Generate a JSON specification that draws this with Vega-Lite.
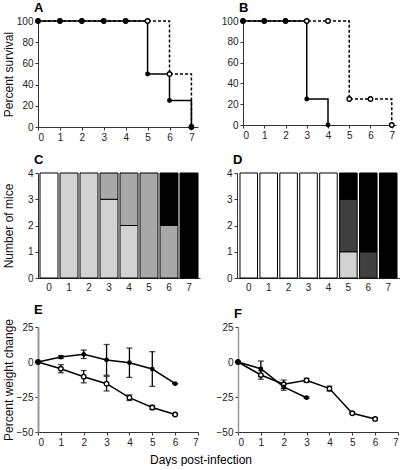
{
  "$schema": "https://vega.github.io/schema/vega-lite/v6.json",
  "padding": {"left": 1, "top": 2, "right": 2, "bottom": 0},
  "config": {
    "font": "Liberation Sans",
    "view": {"stroke": null},
    "axis": {"labelFontSize": 10, "labelColor": "#222", "domainColor": "#333", "tickColor": "#333", "grid": false, "titleFontSize": 12, "titleFontWeight": "normal", "titleColor": "#111", "tickSize": 3, "labelPadding": 2},
    "title": {"fontSize": 13, "fontWeight": "bold", "anchor": "start", "frame": "group", "offset": 1, "dx": -4, "color": "#000"}
  },
  "datasets": {
    "survA": [
      {"day": 0, "pct": 100, "group": "solid"}, {"day": 1, "pct": 100, "group": "solid"}, {"day": 2, "pct": 100, "group": "solid"}, {"day": 3, "pct": 100, "group": "solid"}, {"day": 4, "pct": 100, "group": "solid"}, {"day": 5, "pct": 50, "group": "solid"}, {"day": 6, "pct": 25, "group": "solid"}, {"day": 7, "pct": 0, "group": "solid"},
      {"day": 0, "pct": 100, "group": "open"}, {"day": 1, "pct": 100, "group": "open"}, {"day": 2, "pct": 100, "group": "open"}, {"day": 3, "pct": 100, "group": "open"}, {"day": 4, "pct": 100, "group": "open"}, {"day": 5, "pct": 100, "group": "open"}, {"day": 6, "pct": 50, "group": "open"}, {"day": 7, "pct": 0, "group": "open"}
    ],
    "survB": [
      {"day": 0, "pct": 100, "group": "solid"}, {"day": 1, "pct": 100, "group": "solid"}, {"day": 2, "pct": 100, "group": "solid"}, {"day": 3, "pct": 25, "group": "solid"}, {"day": 4, "pct": 0, "group": "solid"},
      {"day": 0, "pct": 100, "group": "open"}, {"day": 1, "pct": 100, "group": "open"}, {"day": 2, "pct": 100, "group": "open"}, {"day": 3, "pct": 100, "group": "open"}, {"day": 4, "pct": 100, "group": "open"}, {"day": 5, "pct": 25, "group": "open"}, {"day": 6, "pct": 25, "group": "open"}, {"day": 7, "pct": 0, "group": "open"}
    ],
    "miceC": [
      {"day": "0", "cat": "score0", "n": 4},
      {"day": "1", "cat": "score1", "n": 4},
      {"day": "2", "cat": "score1", "n": 4},
      {"day": "3", "cat": "score1", "n": 3}, {"day": "3", "cat": "score2", "n": 1},
      {"day": "4", "cat": "score1", "n": 2}, {"day": "4", "cat": "score2", "n": 2},
      {"day": "5", "cat": "score2", "n": 4},
      {"day": "6", "cat": "score2", "n": 2}, {"day": "6", "cat": "score4", "n": 2},
      {"day": "7", "cat": "score4", "n": 4}
    ],
    "miceD": [
      {"day": "0", "cat": "score0", "n": 4},
      {"day": "1", "cat": "score0", "n": 4},
      {"day": "2", "cat": "score0", "n": 4},
      {"day": "3", "cat": "score0", "n": 4},
      {"day": "4", "cat": "score0", "n": 4},
      {"day": "5", "cat": "score1", "n": 1}, {"day": "5", "cat": "score3", "n": 2}, {"day": "5", "cat": "score4", "n": 1},
      {"day": "6", "cat": "score3", "n": 1}, {"day": "6", "cat": "score4", "n": 3},
      {"day": "7", "cat": "score4", "n": 4}
    ],
    "weightE": [
      {"day": 0, "mean": 0, "sd": 0, "group": "solid"}, {"day": 1, "mean": 3.5, "sd": 1, "group": "solid"}, {"day": 2, "mean": 5.5, "sd": 3, "group": "solid"}, {"day": 3, "mean": 1.5, "sd": 11, "group": "solid"}, {"day": 4, "mean": -0.5, "sd": 10.5, "group": "solid"}, {"day": 5, "mean": -5, "sd": 12.4, "group": "solid"}, {"day": 6, "mean": -15.5, "sd": 0, "group": "solid"},
      {"day": 0, "mean": 0, "sd": 0, "group": "open"}, {"day": 1, "mean": -4.8, "sd": 2.9, "group": "open"}, {"day": 2, "mean": -10.5, "sd": 4.4, "group": "open"}, {"day": 3, "mean": -15.5, "sd": 5.2, "group": "open"}, {"day": 4, "mean": -25.5, "sd": 2, "group": "open"}, {"day": 5, "mean": -32.5, "sd": 1.5, "group": "open"}, {"day": 6, "mean": -37.5, "sd": 0.5, "group": "open"}
    ],
    "weightF": [
      {"day": 0, "mean": 0, "sd": 0, "group": "solid"}, {"day": 1, "mean": -4.8, "sd": 5.5, "group": "solid"}, {"day": 2, "mean": -17.8, "sd": 2.4, "group": "solid"}, {"day": 3, "mean": -25.5, "sd": 0.5, "group": "solid"},
      {"day": 0, "mean": 0, "sd": 0, "group": "open"}, {"day": 1, "mean": -9.3, "sd": 3, "group": "open"}, {"day": 2, "mean": -15.9, "sd": 3, "group": "open"}, {"day": 3, "mean": -13.1, "sd": 1.5, "group": "open"}, {"day": 4, "mean": -19, "sd": 1.8, "group": "open"}, {"day": 5, "mean": -36.6, "sd": 0.5, "group": "open"}, {"day": 6, "mean": -40.7, "sd": 0.5, "group": "open"}
    ]
  },
  "title": {"text": "Days post-infection", "orient": "bottom", "anchor": "middle", "frame": "bounds", "fontSize": 12, "fontWeight": "normal", "dx": 0, "offset": 8},
  "vconcat": [
    {
      "hconcat": [
        {
          "width": 160, "height": 106,
          "title": {"text": "A"},
          "data": {"name": "survA"},
          "encoding": {
            "x": {"field": "day", "type": "quantitative", "scale": {"domain": [0, 7.3], "nice": false}, "axis": {"values": [0, 1, 2, 3, 4, 5, 6, 7], "title": null}},
            "y": {"field": "pct", "type": "quantitative", "scale": {"domain": [0, 100], "nice": false}, "axis": {"values": [0, 20, 40, 60, 80, 100], "title": "Percent survival", "minExtent": 22, "maxExtent": 22, "titlePadding": 1}}
          },
          "layer": [
            {"transform": [{"filter": "datum.group == 'open'"}], "mark": {"type": "line", "interpolate": "step-after", "strokeDash": [3, 2], "strokeWidth": 1.5, "color": "#000"}},
            {"transform": [{"filter": "datum.group == 'solid'"}], "mark": {"type": "line", "interpolate": "step-after", "strokeWidth": 1.5, "color": "#000"}},
            {"transform": [{"filter": "datum.group == 'open'"}], "mark": {"type": "point", "shape": "circle", "filled": true, "fill": "#fff", "stroke": "#000", "strokeWidth": 1.3, "size": 20, "opacity": 1}},
            {"transform": [{"filter": "datum.group == 'solid'"}], "mark": {"type": "circle", "color": "#000", "size": 24, "opacity": 1}}
          ]
        },
        {
          "width": 153, "height": 104,
          "title": {"text": "B"},
          "data": {"name": "survB"},
          "encoding": {
            "x": {"field": "day", "type": "quantitative", "scale": {"domain": [0, 7.2], "nice": false}, "axis": {"values": [0, 1, 2, 3, 4, 5, 6, 7], "title": null}},
            "y": {"field": "pct", "type": "quantitative", "scale": {"domain": [0, 100], "nice": false}, "axis": {"values": [0, 20, 40, 60, 80, 100], "title": null}}
          },
          "layer": [
            {"transform": [{"filter": "datum.group == 'open'"}], "mark": {"type": "line", "interpolate": "step-after", "strokeDash": [3, 2], "strokeWidth": 1.5, "color": "#000"}},
            {"transform": [{"filter": "datum.group == 'solid'"}], "mark": {"type": "line", "interpolate": "step-after", "strokeWidth": 1.5, "color": "#000"}},
            {"transform": [{"filter": "datum.group == 'open'"}], "mark": {"type": "point", "shape": "circle", "filled": true, "fill": "#fff", "stroke": "#000", "strokeWidth": 1.3, "size": 20, "opacity": 1}},
            {"transform": [{"filter": "datum.group == 'solid'"}], "mark": {"type": "circle", "color": "#000", "size": 24, "opacity": 1}}
          ]
        }
      ],
      "bounds": "flush",
      "spacing": 45
    },
    {
      "hconcat": [
        {
          "width": 162, "height": 105,
          "title": {"text": "C"},
          "data": {"name": "miceC"},
          "mark": {"type": "bar", "stroke": "#000", "strokeWidth": 1},
          "encoding": {
            "x": {"field": "day", "type": "ordinal", "scale": {"paddingInner": 0.1, "paddingOuter": 0.1}, "axis": {"labelAngle": 0, "ticks": false, "title": null, "labelPadding": 4}},
            "y": {"field": "n", "type": "quantitative", "aggregate": "sum", "scale": {"domain": [0, 4], "nice": false}, "axis": {"values": [0, 1, 2, 3, 4], "title": "Number of mice", "minExtent": 22, "maxExtent": 22, "titlePadding": 1}},
            "color": {"field": "cat", "type": "nominal", "scale": {"domain": ["score0", "score1", "score2", "score3", "score4"], "range": ["#ffffff", "#d2d2d2", "#a8a8a8", "#404040", "#000000"]}, "legend": null},
            "order": {"field": "cat", "sort": "ascending"}
          }
        },
        {
          "width": 163, "height": 105,
          "title": {"text": "D"},
          "data": {"name": "miceD"},
          "mark": {"type": "bar", "stroke": "#000", "strokeWidth": 1},
          "encoding": {
            "x": {"field": "day", "type": "ordinal", "scale": {"paddingInner": 0.12, "paddingOuter": 0.15}, "axis": {"labelAngle": 0, "ticks": false, "title": null, "labelPadding": 4}},
            "y": {"field": "n", "type": "quantitative", "aggregate": "sum", "scale": {"domain": [0, 4], "nice": false}, "axis": {"values": [0, 1, 2, 3, 4], "title": null}},
            "color": {"field": "cat", "type": "nominal", "scale": {"domain": ["score0", "score1", "score2", "score3", "score4"], "range": ["#ffffff", "#d2d2d2", "#a8a8a8", "#404040", "#000000"]}, "legend": null},
            "order": {"field": "cat", "sort": "ascending"}
          }
        }
      ],
      "bounds": "flush",
      "spacing": 37
    },
    {
      "hconcat": [
        {
          "width": 160, "height": 105,
          "title": {"text": "E"},
          "data": {"name": "weightE"},
          "encoding": {
            "x": {"field": "day", "type": "quantitative", "scale": {"domain": [0, 7], "nice": false}, "axis": {"values": [0, 1, 2, 3, 4, 5, 6, 7], "title": null}},
            "y": {"field": "mean", "type": "quantitative", "scale": {"domain": [-50, 25], "nice": false}, "axis": {"values": [-50, -25, 0, 25], "title": "Percent weight change", "minExtent": 22, "maxExtent": 22, "titlePadding": 1, "domainColor": "#999", "domainWidth": 2}}
          },
          "layer": [
            {"mark": {"type": "errorbar", "ticks": {"size": 6, "color": "#000"}, "color": "#000", "thickness": 1.3}, "encoding": {"yError": {"field": "sd"}, "detail": {"field": "group"}}},
            {"mark": {"type": "line", "strokeWidth": 1.5, "color": "#000"}, "encoding": {"detail": {"field": "group"}}},
            {"transform": [{"filter": "datum.group == 'open'"}], "mark": {"type": "point", "shape": "circle", "filled": true, "fill": "#fff", "stroke": "#000", "strokeWidth": 1.3, "size": 20, "opacity": 1}},
            {"transform": [{"filter": "datum.group == 'solid'"}], "mark": {"type": "circle", "color": "#000", "size": 22, "opacity": 1}}
          ]
        },
        {
          "width": 160, "height": 105,
          "title": {"text": "F"},
          "data": {"name": "weightF"},
          "encoding": {
            "x": {"field": "day", "type": "quantitative", "scale": {"domain": [0, 7], "nice": false}, "axis": {"values": [0, 1, 2, 3, 4, 5, 6, 7], "title": null}},
            "y": {"field": "mean", "type": "quantitative", "scale": {"domain": [-50, 25], "nice": false}, "axis": {"values": [-50, -25, 0, 25], "title": null, "domainColor": "#999", "domainWidth": 1.5}}
          },
          "layer": [
            {"mark": {"type": "errorbar", "ticks": {"size": 6, "color": "#000"}, "color": "#000", "thickness": 1.3}, "encoding": {"yError": {"field": "sd"}, "detail": {"field": "group"}}},
            {"mark": {"type": "line", "strokeWidth": 1.5, "color": "#000"}, "encoding": {"detail": {"field": "group"}}},
            {"transform": [{"filter": "datum.group == 'open'"}], "mark": {"type": "point", "shape": "circle", "filled": true, "fill": "#fff", "stroke": "#000", "strokeWidth": 1.3, "size": 20, "opacity": 1}},
            {"transform": [{"filter": "datum.group == 'solid'"}], "mark": {"type": "circle", "color": "#000", "size": 22, "opacity": 1}}
          ]
        }
      ],
      "bounds": "flush",
      "spacing": 40
    }
  ],
  "spacing": 12
}
